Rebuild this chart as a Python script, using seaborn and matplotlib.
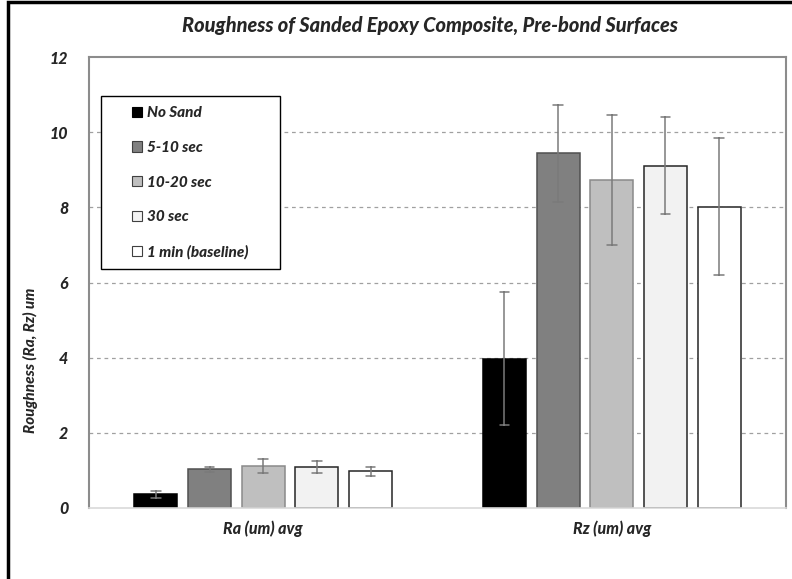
import matplotlib
matplotlib.use("Agg")
import matplotlib.pyplot as plt
import seaborn as sns
import pandas as pd
from matplotlib.patches import Rectangle

categories = ["Ra (um) avg", "Rz (um) avg"]
groups = ["No Sand", "5-10 sec", "10-20 sec", "30 sec", "1 min (baseline)"]
ra_mean = [0.36, 1.03, 1.11, 1.09, 0.98]
ra_sd = [0.09, 0.07, 0.19, 0.16, 0.12]
rz_mean = [3.97, 9.44, 8.72, 9.11, 8.02]
rz_sd = [1.77, 1.29, 1.73, 1.30, 1.83]
yticks = [0, 2, 4, 6, 8, 10, 12]

fills = ["#000000", "#808080", "#bfbfbf", "#f2f2f2", "#ffffff"]
edges = ["#000000", "#505050", "#8a8a8a", "#262626", "#262626"]

rows = []
for cat, means, sds in [(categories[0], ra_mean, ra_sd), (categories[1], rz_mean, rz_sd)]:
    for g, m, s in zip(groups, means, sds):
        rows.append({"cat": cat, "grp": g, "val": m - s})
        rows.append({"cat": cat, "grp": g, "val": m + s})
df = pd.DataFrame(rows)

sns.set_theme(style="white")
FONT = ["Lato", "DejaVu Sans"]
plt.rcParams["font.family"] = FONT
W = "black"

fig = plt.figure(figsize=(7.92, 5.79), dpi=100)
ax = fig.add_axes([89/792, 1-508/579, (786-89)/792, (508-57)/579])

sns.barplot(data=df, x="cat", y="val", hue="grp", order=categories, hue_order=groups,
            palette=fills, estimator="mean", errorbar=lambda v: (v.min(), v.max()),
            width=0.77, gap=0.2, capsize=0.14,
            err_kws={"color": "#7a7a7a", "linewidth": 1.1}, ax=ax, legend=True)

for cont, ec in zip(ax.containers, edges):
    for p in cont.patches:
        p.set_edgecolor(ec)
        p.set_linewidth(1.1)

ax.set_ylim(0, 12)
ax.set_yticks(yticks)
ax.set_yticklabels([str(t) for t in yticks], fontsize=11.5, fontweight=W, fontstyle="italic")
ax.set_xticks(range(len(categories)))
ax.set_xticklabels(categories, fontsize=11.5, fontweight=W, fontstyle="italic")
ax.tick_params(axis="both", length=0)
ax.tick_params(axis="y", pad=15)
ax.tick_params(axis="x", pad=9)
ax.set_xlabel("")
ax.set_ylabel("Roughness (Ra, Rz) um", fontsize=11, fontweight=W, fontstyle="italic")
ax.yaxis.set_label_coords(-0.073, 0.328)

for y in yticks[1:-1]:
    ax.axhline(y, color="#a0a0a0", linestyle=(0, (3, 3)), linewidth=0.9, zorder=0)

for s in ["left", "top", "right"]:
    ax.spines[s].set_color("#8c8c8c")
    ax.spines[s].set_linewidth(1.5)
ax.spines["bottom"].set_color("#d9d9d9")
ax.spines["bottom"].set_linewidth(1.2)

# legend (frame drawn separately to match the wide box of the reference)
def ax_xy(px, py):
    return ((px - 89) / 697, (508 - py) / 451)

leg = ax.legend(loc="upper left", bbox_to_anchor=ax_xy(132, 106),
                frameon=False,
                prop={"family": FONT, "weight": W, "style": "italic", "size": 11},
                handlelength=0.65, handleheight=0.65, handletextpad=0.35,
                labelspacing=1.36, borderpad=0, borderaxespad=0)
for h, ec in zip(leg.legend_handles, edges):
    h.set_edgecolor("#000000" if ec == "#000000" else "#404040")
    h.set_linewidth(0.8)
x0, y0 = ax_xy(101, 269)
x1, y1 = ax_xy(280, 96)
ax.add_patch(Rectangle((x0, y0), x1 - x0, y1 - y0, transform=ax.transAxes,
                       fill=True, facecolor="white", edgecolor="#000000", linewidth=1.0, zorder=4))
leg.set_zorder(5)

fig.text(430/792, 1-25/579, "Roughness of Sanded Epoxy Composite, Pre-bond Surfaces",
         ha="center", va="center", fontsize=14.4, fontweight=W, fontstyle="italic")

fig.patches.append(Rectangle((8/792, -0.1), 1.2, 1 - 2/579 + 0.1, transform=fig.transFigure,
                             fill=False, edgecolor="#000000", linewidth=2.5, figure=fig))

fig.savefig("out.png", dpi=100)
